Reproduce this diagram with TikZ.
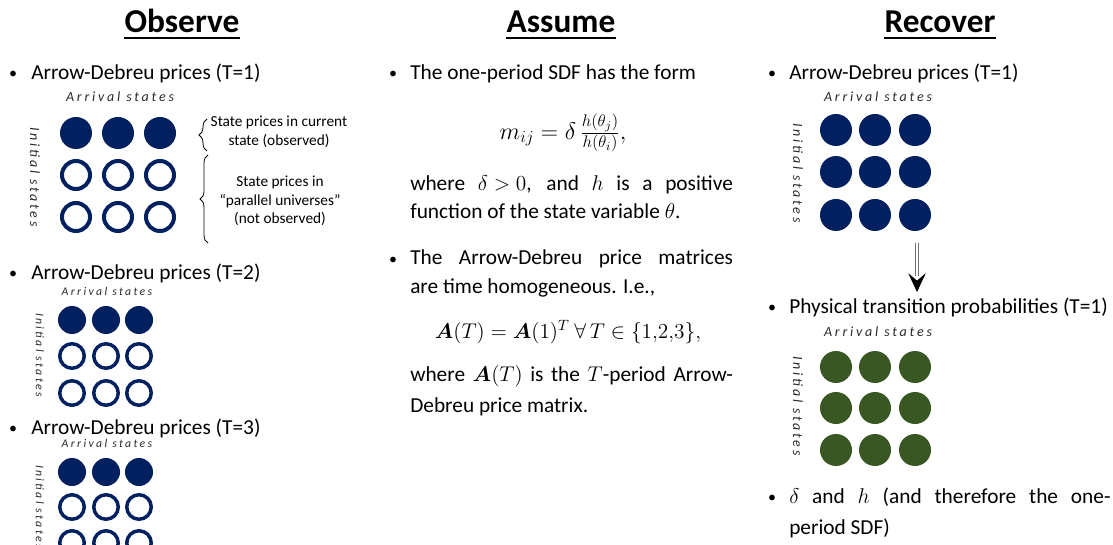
\documentclass[tikz,border=0pt]{standalone}
\usepackage{fix-cm}
\usepackage{amsmath}
\usepackage{amssymb}
\usepackage[no-math]{fontspec}
\setmainfont{Carlito}
\newfontfamily\trackfont[LetterSpace=20]{Carlito}
\usepackage{tikz}
\usetikzlibrary{arrows.meta, positioning, calc, decorations.pathreplacing}
\definecolor{navy}{HTML}{002060}
\definecolor{moss}{HTML}{385723}
\definecolor{labelgray}{HTML}{2A2A2A}
\tikzset{
  colhead/.style={
    anchor=base, inner sep=0pt,
    font=\fontsize{25}{30}\selectfont\bfseries,
  },
  uline/.style={line width=1.5pt},
  body/.style={
    anchor=base west, inner sep=0pt,
    font=\fontsize{16}{19}\selectfont,
  },
  bullet/.style={anchor=base, inner sep=0pt, font=\fontsize{12}{14}\selectfont},
  eqn/.style={inner sep=0pt, font=\fontsize{16}{19}\selectfont},
  arrival/.style={
    inner sep=0pt, text=labelgray,
    font=\fontsize{10.5}{12}\selectfont\trackfont\itshape,
  },
  arrivalsm/.style={arrival, font=\fontsize{8.8}{10}\selectfont\trackfont\itshape},
  initial/.style={arrival, rotate=-90},
  initialsm/.style={arrivalsm, rotate=-90},
  note/.style={align=center, inner sep=0pt, font=\fontsize{11.5}{14}\selectfont},
  adfull/.style={circle, inner sep=0pt, fill=navy, minimum size=24pt},
  adring/.style={circle, inner sep=0pt, draw=navy, line width=3pt, fill=white, minimum size=21pt},
  adfullsm/.style={circle, inner sep=0pt, fill=navy, minimum size=21pt},
  adringsm/.style={circle, inner sep=0pt, draw=navy, line width=2.6pt, fill=white, minimum size=18.4pt},
  physfull/.style={circle, inner sep=0pt, fill=moss, minimum size=24pt},
  brc/.style={decorate, decoration={brace, amplitude=6pt}, line width=0.6pt},
  dblshaft/.style={draw=black!55, line width=0.6pt, double=white, double distance=1.6pt},
  tiponly/.style={-{Stealth[length=14pt, width=13pt, inset=5.5pt]}, black},
}

\begin{document}
\begin{tikzpicture}[x=0.75pt, y=-0.75pt]
  \useasboundingbox (0,0) rectangle (1113,545);
  \clip (0,0) rectangle (1113,545);

  % column headings
  \node[colhead] (hObs) at (182,33) {Observe};
  \node[colhead] (hAss) at (561,33) {Assume};
  \node[colhead] (hRec) at (940,33) {Recover};
  \foreach \h in {hObs,hAss,hRec}
    \draw[uline] ([yshift=-4pt]\h.base west) -- ([yshift=-4pt]\h.base east);

  % Observe: T=1
  \node[bullet] (bO1) at (13,79) {•};
  \node[body] (tO1) at (31,80) {Arrow-Debreu prices (T=1)};
  \node[arrival] (arrO1) at (120,97) {Arrival states};
  \node[initial] (iniO1) at (35,177) {Initial states};
  \foreach \c/\x in {1/76,2/118,3/160}{
    \node[adfull] (oA-1-\c) at (\x,133) {};
    \node[adring] (oA-2-\c) at (\x,175) {};
    \node[adring] (oA-3-\c) at (\x,217) {};
  }
  \coordinate (brA1) at (207,151);
  \coordinate (brA2) at (207,119);
  \draw[brc] (brA1) -- (brA2);
  \node[note] (noteA) at (279,132) {State prices in current\\state (observed)};
  \coordinate (brB1) at (208,243);
  \coordinate (brB2) at (208,155);
  \draw[brc] (brB1) -- (brB2);
  \node[note] (noteB) at (280,201) {State prices in\\“parallel universes”\\(not observed)};

  % Observe: T=2
  \node[bullet] (bO2) at (13,278) {•};
  \node[body] (tO2) at (31,279) {Arrow-Debreu prices (T=2)};
  \node[arrivalsm] (arrO2) at (107,291) {Arrival states};
  \node[initialsm] (iniO2) at (40,355) {Initial states};
  \foreach \c/\x in {1/72,2/106,3/139}{
    \node[adfullsm] (oB-1-\c) at (\x,320) {};
    \node[adringsm] (oB-2-\c) at (\x,356) {};
    \node[adringsm] (oB-3-\c) at (\x,393) {};
  }

  % Observe: T=3
  \node[bullet] (bO3) at (13,433) {•};
  \node[body] (tO3) at (31,434) {Arrow-Debreu prices (T=3)};
  \node[arrivalsm] (arrO3) at (107,443) {Arrival states};
  \node[initialsm] (iniO3) at (40,507) {Initial states};
  \foreach \c/\x in {1/72,2/106,3/139}{
    \node[adfullsm] (oC-1-\c) at (\x,472) {};
    \node[adringsm] (oC-2-\c) at (\x,507) {};
    \node[adringsm] (oC-3-\c) at (\x,543) {};
  }

  % Assume
  \node[bullet] (bA1) at (393,79) {•};
  \node[body] (tA1) at (410,80) {The one-period SDF has the form};
  \node[eqn, font=\fontsize{18}{21}\selectfont] (eqSDF) at (563,133) {$m_{ij} = \delta\,\frac{h(\theta_j)}{h(\theta_i)},$};
  \node[body] (tA2) at (410,191) {\makebox[242pt][s]{where $\delta\mskip5mu{>}\mskip5mu0$, and $h$ is a positive}};
  \node[body] (tA3) at (410,219) {function of the state variable $\theta$.};
  \node[bullet] (bA2) at (393,264) {•};
  \node[body] (tA4) at (410,265) {\makebox[242pt][s]{The Arrow-Debreu price matrices}};
  \node[body] (tA5) at (410,293) {are time homogeneous. I.e.,};
  \node[eqn] (eqAT) at (568,332) {$\boldsymbol{A}(T) = \boldsymbol{A}(1)^T\ \forall\, T \in \{1{,}2{,}3\},$};
  \node[body] (tA6) at (410,381) {\makebox[242pt][s]{where $\boldsymbol{A}(T)$ is the $T$-period Arrow-}};
  \node[body] (tA7) at (410,412) {Debreu price matrix.};

  % Recover
  \node[bullet] (bR1) at (772,79) {•};
  \node[body] (tR1) at (789,80) {Arrow-Debreu prices (T=1)};
  \node[arrival] (arrR1) at (878,97) {Arrival states};
  \node[initial] (iniR1) at (798,173) {Initial states};
  \foreach \c/\x in {1/836,2/875,3/915}{
    \node[adfull] (rA-1-\c) at (\x,130) {};
    \node[adfull] (rA-2-\c) at (\x,172) {};
    \node[adfull] (rA-3-\c) at (\x,215) {};
  }
  \coordinate (arrTop) at (917,243);
  \coordinate (arrTip) at (917,292);
  \draw[dblshaft, shorten >=12pt] (arrTop) -- (arrTip);
  \draw[tiponly] ($(arrTip)+(0,-3)$) -- (arrTip);

  \node[bullet] (bR2) at (772,312) {•};
  \node[body] (tR2) at (789,313) {Physical transition probabilities (T=1)};
  \node[arrival] (arrR2) at (878,332) {Arrival states};
  \node[initial] (iniR2) at (798,406) {Initial states};
  \foreach \c/\x in {1/836,2/875,3/915}{
    \node[physfull] (rB-1-\c) at (\x,367) {};
    \node[physfull] (rB-2-\c) at (\x,408) {};
    \node[physfull] (rB-3-\c) at (\x,450) {};
  }
  \node[bullet] (bR3) at (772,502) {•};
  \node[body] (tR3) at (789,503) {\makebox[241pt][s]{$\delta$ and $h$ (and therefore the one-}};
  \node[body] (tR4) at (789,534) {period SDF)};

\end{tikzpicture}
\end{document}
